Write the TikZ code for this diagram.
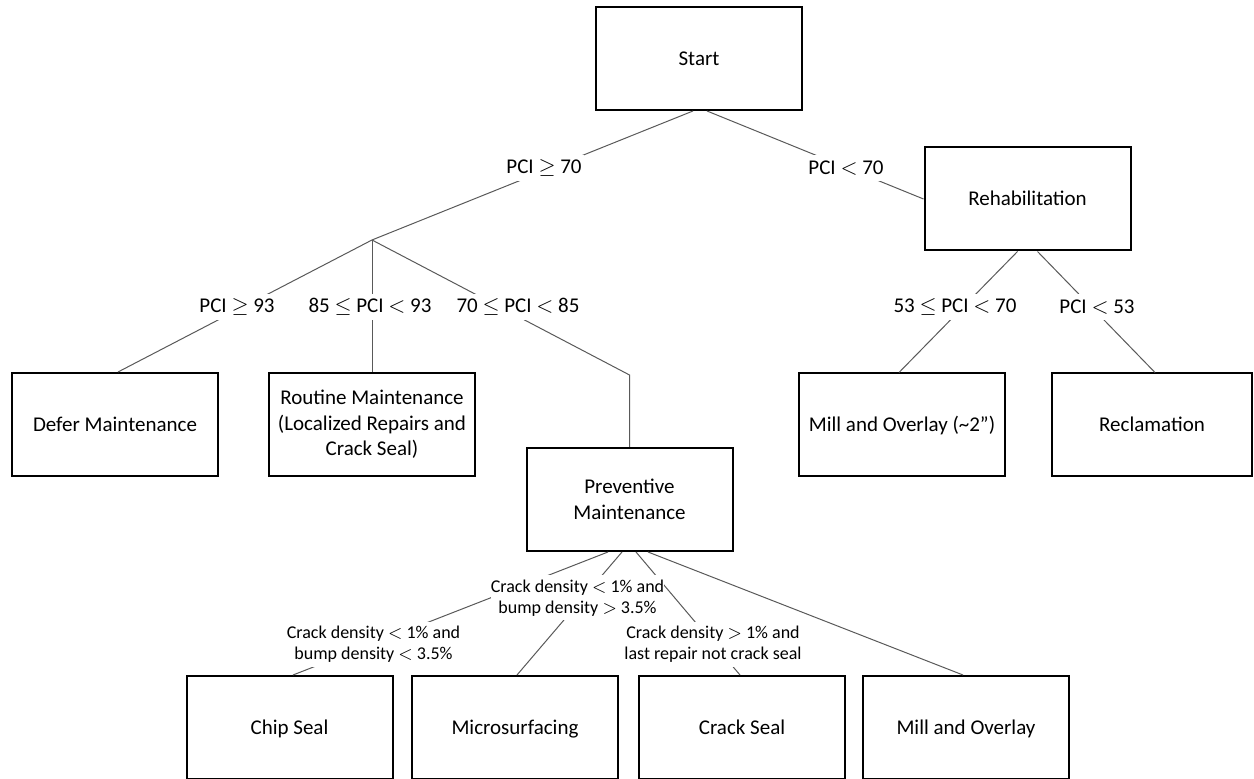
\documentclass[tikz,border=0pt]{standalone}
\usepackage{fontspec}
\setmainfont{Carlito}
\usetikzlibrary{calc}
\newcommand\mystrut{\rule[-3pt]{0pt}{12.6pt}}
\begin{document}
\begin{tikzpicture}[x=0.5pt,y=-0.5pt,
  box/.style={draw=black,line width=1pt,minimum width=103pt,minimum height=51.5pt,
    inner sep=0pt,align=center,font=\fontsize{10.5}{12.8}\selectfont},
  conn/.style={draw=black!65,line width=0.5pt},
  lbl/.style={fill=white,inner xsep=1pt,inner ysep=0pt,minimum height=13pt,
    font=\fontsize{10.5}{12.8}\selectfont},
  slbl/.style={fill=white,inner sep=0pt,minimum width=86pt,minimum height=22.5pt,
    align=center,font=\fontsize{9}{10.5}\selectfont}]
\useasboundingbox (0,0) rectangle (1254,779);
\clip (0,0) rectangle (1254,779);

% boxes
\node[box] (start) at (699,58.5) {Start\mystrut};
\node[box] (rehab) at (1027.5,199) {Rehabilitation\mystrut};
\node[box] (defer) at (115,424.5) {Defer Maintenance\mystrut};
\node[box] (routine) at (372,424.5) {Routine Maintenance\\(Localized Repairs and\\Crack Seal)};
\node[box] (prev) at (629.5,499.5) {Preventive\\Maintenance};
\node[box] (mo2) at (902,425) {Mill and Overlay (\textasciitilde2”)\mystrut};
\node[box,minimum width=100pt] (recl) at (1152,425) {Reclamation\mystrut};
\node[box] (chip) at (289.5,727.5) {Chip Seal\mystrut};
\node[box] (micro) at (515,727.5) {Microsurfacing\mystrut};
\node[box] (crack) at (742,727.5) {Crack Seal\mystrut};
\node[box] (mill) at (966,727.5) {Mill and Overlay\mystrut};

\coordinate (junction) at (372,240);
\coordinate (bend) at (629.5,375);

% connectors
\draw[conn] ($(start.south)+(-6,0)$) -- (junction);
\draw[conn] ($(start.south)+(8,0)$) -- (rehab.west);
\draw[conn] (junction) -- ($(defer.north)+(3,0)$);
\draw[conn] (junction) -- (routine.north);
\draw[conn] (junction) -- (bend) -- (prev.north);
\draw[conn] ($(rehab.south)+(-10,0)$) -- ($(mo2.north)+(-3,0)$);
\draw[conn] ($(rehab.south)+(10,0)$) -- ($(recl.north)+(3,0)$);
\draw[conn] ($(prev.south)+(-21.5,0)$) -- ($(chip.north)+(3.5,0)$);
\draw[conn] ($(prev.south)+(-7.5,0)$) -- ($(micro.north)+(2,0)$);
\draw[conn] ($(prev.south)+(6.5,0)$) -- ($(crack.north)+(-2,0)$);
\draw[conn] ($(prev.south)+(18.5,0)$) -- ($(mill.north)+(-3,0)$);

% labels
\node[lbl] (l70a) at (544,168) {PCI $\geq$ 70};
\node[lbl] (l70b) at (846,168) {PCI $<$ 70};
\node[lbl] (l93) at (237,307) {PCI $\geq$ 93};
\node[lbl] (l8593) at (370,307) {85 $\leq$ PCI $<$ 93};
\node[lbl] (l7085) at (518,307) {70 $\leq$ PCI $<$ 85};
\node[lbl] (l5370) at (955,307) {53 $\leq$ PCI $<$ 70};
\node[lbl] (l53) at (1097,307) {PCI $<$ 53};
\node[slbl] (cd1) at (577.5,598) {Crack density $<$ 1\% and\\bump density $>$ 3.5\%};
\node[slbl] (cd2) at (373.5,644.5) {Crack density $<$ 1\% and\\bump density $<$ 3.5\%};
\node[slbl,minimum width=87pt] (cd3) at (713,644.5) {Crack density $>$ 1\% and\\last repair not crack seal};
\end{tikzpicture}
\end{document}
